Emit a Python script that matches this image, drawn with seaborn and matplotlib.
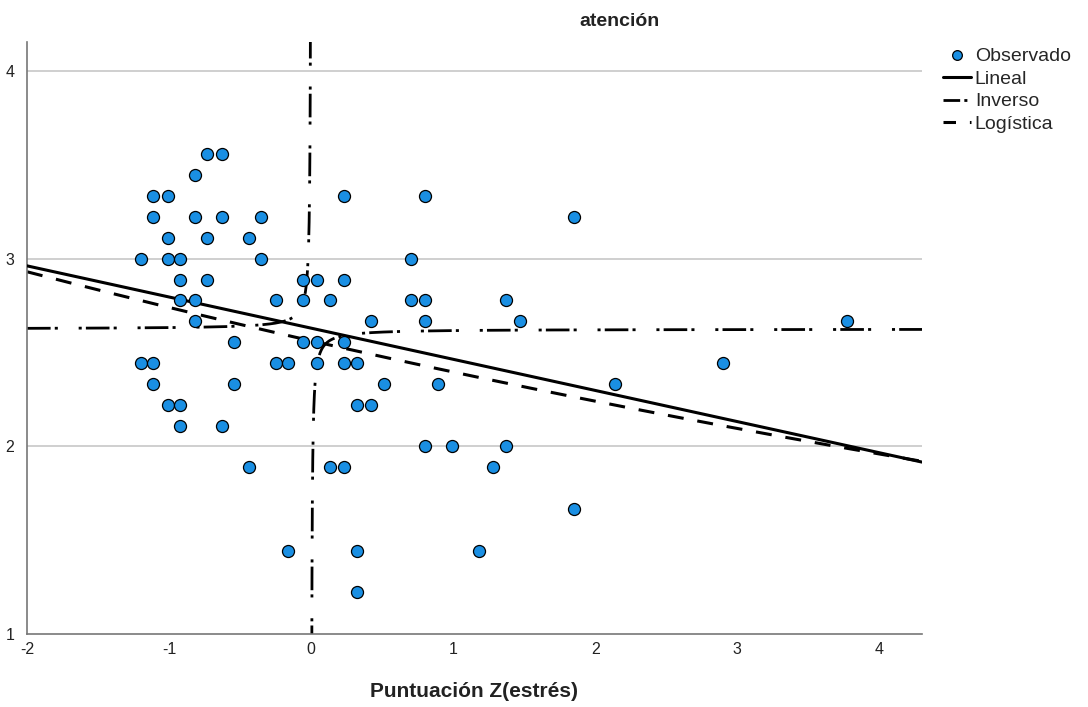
import numpy as np
import pandas as pd
import seaborn as sns
import matplotlib
matplotlib.use("Agg")
import matplotlib.pyplot as plt
from matplotlib.lines import Line2D

estres_z = [
    -0.73, -0.63,
    -0.82,
    -1.11, -1.01, 0.23, 0.80,
    -1.11, -0.82, -0.63, -0.35, 1.85,
    -1.01, -0.73, -0.44,
    -1.20, -1.01, -0.92, -0.35, 0.70,
    -0.92, -0.73, -0.06, 0.04, 0.23,
    -0.92, -0.82, -0.25, -0.06, 0.13, 0.70, 0.80, 1.37,
    -0.82, 0.42, 0.80, 1.47, 3.77,
    -0.54, -0.06, 0.04, 0.23,
    -1.20, -1.11, -0.25, -0.16, 0.04, 0.23, 0.32, 2.90,
    -1.11, -0.54, 0.51, 0.89, 2.14,
    -1.01, -0.92, 0.32, 0.42,
    -0.92, -0.63,
    0.80, 0.99, 1.37,
    -0.44, 0.13, 0.23, 1.28,
    1.85,
    -0.16, 0.32, 1.18,
    0.32,
]
atencion = (
    [3.556] * 2 + [3.444] * 1 + [3.333] * 4 + [3.222] * 5 + [3.111] * 3
    + [3.000] * 5 + [2.889] * 5 + [2.778] * 8 + [2.667] * 5 + [2.556] * 4
    + [2.444] * 8 + [2.333] * 5 + [2.222] * 4 + [2.111] * 2 + [2.000] * 3
    + [1.889] * 4 + [1.667] * 1 + [1.444] * 3 + [1.222] * 1
)

# fitted model coefficients (estimated from the drawn curves)
lineal_b0, lineal_b1 = 2.63, -0.166
inverso_b0, inverso_b1 = 2.625, -0.008
logist_a, logist_b = 0.941, -0.0671   # y = exp(a + b*x)

x_min, x_max = -2.0, 4.30
y_min, y_max = 1.0, 4.155

sns.set_theme(style="white")
plt.rcParams['font.family'] = ['Liberation Sans', 'DejaVu Sans']
plt.rcParams['lines.scale_dashes'] = False
plt.rcParams['axes.unicode_minus'] = False

fig = plt.figure(figsize=(10.88, 7.07), dpi=100)
ax = fig.add_axes([27 / 1088, 1 - 634 / 707, (922 - 27) / 1088, (634 - 42) / 707])

for gy in [2, 3, 4]:
    ax.axhline(gy, color="#cccccc", lw=1.3, zorder=0)

obs = pd.DataFrame({"z": estres_z, "atencion": atencion})

# curves
xs = np.linspace(x_min, x_max, 400)
lin = pd.DataFrame({"x": xs, "y": lineal_b0 + lineal_b1 * xs})
logi = pd.DataFrame({"x": xs, "y": np.exp(logist_a + logist_b * xs)})
xl = np.concatenate([np.linspace(x_min, -0.2, 200), -np.geomspace(0.2, 0.0015, 200)])
xr = np.concatenate([np.geomspace(0.0015, 0.2, 200), np.linspace(0.2, x_max, 200)])
inv_l = pd.DataFrame({"x": xl, "y": inverso_b0 + inverso_b1 / xl})
inv_r = pd.DataFrame({"x": xr, "y": inverso_b0 + inverso_b1 / xr})

inv_style = (0, (17, 3, 2.2, 15, 2.2, 3))
dash_style = (0, (11.5, 10))

sns.lineplot(data=inv_l, x="x", y="y", ax=ax, color="black", lw=2.0,
             linestyle=inv_style, sort=False, estimator=None, zorder=2)
sns.lineplot(data=inv_r, x="x", y="y", ax=ax, color="black", lw=2.0,
             linestyle=inv_style, sort=False, estimator=None, zorder=2)
sns.lineplot(data=logi, x="x", y="y", ax=ax, color="black", lw=2.2,
             linestyle=dash_style, estimator=None, zorder=2)
sns.lineplot(data=lin, x="x", y="y", ax=ax, color="black", lw=2.2,
             estimator=None, zorder=3)

sns.scatterplot(data=obs, x="z", y="atencion", ax=ax, s=75, color="#1a8fe3",
                edgecolor="black", linewidth=0.9, zorder=4)

ax.set_xlim(x_min, x_max)
ax.set_ylim(y_min, y_max)
ax.set_xticks([-2, -1, 0, 1, 2, 3, 4])
ax.set_yticks([1, 2, 3, 4])
ax.tick_params(axis="both", length=0, labelsize=11.5, colors="#222222", pad=6)
ax.tick_params(axis="y", pad=9)
for side in ["top", "right"]:
    ax.spines[side].set_visible(False)
for side in ["left", "bottom"]:
    ax.spines[side].set_color("#777777")
    ax.spines[side].set_linewidth(1.2)

ax.set_xlabel("Puntuación Z(estrés)", fontsize=15, fontweight="bold",
              labelpad=18, color="#222222")
ax.set_ylabel("")
fig.text(620 / 1088, 1 - 22 / 707, "atención", ha="center", va="center",
         fontsize=14, fontweight="bold", color="#222222")

handles = [
    Line2D([], [], ls="none", marker="o", ms=7, markerfacecolor="#1a8fe3",
           markeredgecolor="black", markeredgewidth=0.9),
    Line2D([], [], color="black", lw=2.2),
    Line2D([], [], color="black", lw=2.0, ls=(0, (12, 3, 2.2, 3))),
    Line2D([], [], color="black", lw=2.2, ls=(0, (9, 10, 2.2, 3))),
]
labels = ["Observado", "Lineal", "Inverso", "Logística"]
fig.legend(handles, labels, loc="upper left", bbox_to_anchor=(935 / 1088, 1 - 40 / 707),
           frameon=False, fontsize=14, handlelength=1.45, handletextpad=0.2,
           labelspacing=0.25, borderaxespad=0)

fig.savefig("out.png", dpi=100)
